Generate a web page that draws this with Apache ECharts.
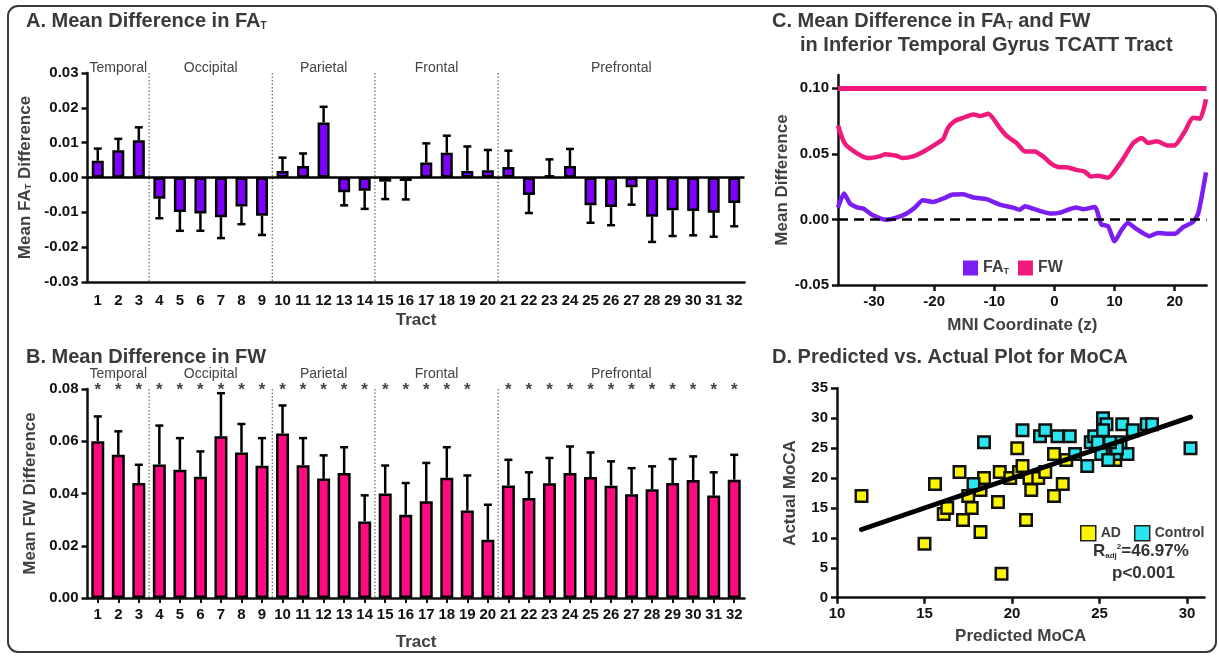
<!DOCTYPE html>
<html>
<head>
<meta charset="utf-8">
<script src="https://cdn.jsdelivr.net/npm/echarts@6/dist/echarts.min.js"></script>
<style>
html, body { margin: 0; padding: 0; background: #fff; }
#main { width: 1219px; height: 656px; }
</style>
</head>
<body>
<div id="main"></div>
<script>
var chartDom = document.getElementById('main');
var myChart = echarts.init(chartDom);
var option;

// ---- data ----
var tracts = ['1','2','3','4','5','6','7','8','9','10','11','12','13','14','15','16',
              '17','18','19','20','21','22','23','24','25','26','27','28','29','30','31','32'];

var regions = ['Temporal', 'Occipital', 'Parietal', 'Frontal', 'Prefrontal'];
var regionFirst = [1, 4, 10, 15, 21];
var regionLast = [3, 9, 14, 20, 32];
var dividerAfter = [3, 9, 14, 20];

// A. FA_T mean difference and error (one-sided bar)
var faMean = [0.0048, 0.0078, 0.0107, -0.0061, -0.0099, -0.0103, -0.0114, -0.0083, -0.0110, 0.0019,
              0.0033, 0.0158, -0.0042, -0.0038, -0.0012, -0.0010, 0.0043, 0.0071, 0.0019, 0.0021,
              0.0030, -0.0050, 0.0007, 0.0033, -0.0080, -0.0085, -0.0028, -0.0113, -0.0094, -0.0096,
              -0.0101, -0.0073];
var faErr = [0.0035, 0.0033, 0.0037, 0.0056, 0.0054, 0.0050, 0.0060, 0.0051, 0.0055, 0.0038,
             0.0036, 0.0045, 0.0038, 0.0052, 0.0050, 0.0053, 0.0055, 0.0049, 0.0070, 0.0058,
             0.0047, 0.0052, 0.0045, 0.0049, 0.0050, 0.0052, 0.0050, 0.0072, 0.0074, 0.0070,
             0.0069, 0.0067];

// B. FW mean difference and error
var fwMean = [0.0600, 0.0548, 0.0440, 0.0511, 0.0491, 0.0464, 0.0619, 0.0557, 0.0506, 0.0630,
              0.0508, 0.0457, 0.0478, 0.0293, 0.0400, 0.0319, 0.0370, 0.0460, 0.0335, 0.0223,
              0.0431, 0.0383, 0.0439, 0.0478, 0.0463, 0.0430, 0.0397, 0.0416, 0.0440, 0.0452,
              0.0392, 0.0453];
var fwErr = [0.0095, 0.0090, 0.0070, 0.0149, 0.0121, 0.0097, 0.0165, 0.0109, 0.0106, 0.0107,
             0.0104, 0.0089, 0.0099, 0.0100, 0.0107, 0.0121, 0.0147, 0.0117, 0.0134, 0.0134,
             0.0098, 0.0098, 0.0097, 0.0102, 0.0094, 0.0093, 0.0100, 0.0088, 0.0092, 0.0090,
             0.0089, 0.0095];
var fwStar = [1,1,1,1,1,1,1,1,1,1,1,1,1,1,1,1,1,1,1,0,1,1,1,1,1,1,1,1,1,1,1,1];

// C. profiles along the tract
var fwZ = [-36, -34.9, -32.9, -31, -29.1, -28.2, -26.3, -25.2, -23.5, -21.9, -19.6, -18.5, -17.7, -16.6,
           -15.2, -13.5, -12.4, -11, -9.1, -8, -6.3, -4.9, -3.3, -1.9, -0.5, 0.9, 2, 3.6, 5, 6.1,
           7.2, 8.9, 9.7, 11.4, 13.1, 14.5, 15.6, 17, 18.9, 20, 21.7, 23, 24.2, 25.2];
var fwVal = [0.0715, 0.0580, 0.0505, 0.0467, 0.0480, 0.0497, 0.0485, 0.0467, 0.0480, 0.0513, 0.0577,
             0.0613, 0.0697, 0.0749, 0.0774, 0.0800, 0.0787, 0.0805, 0.0697, 0.0638, 0.0582, 0.0518,
             0.0518, 0.0480, 0.0423, 0.0397, 0.0397, 0.0377, 0.0364, 0.0326, 0.0333, 0.0318, 0.0351,
             0.0459, 0.0582, 0.0620, 0.0582, 0.0595, 0.0562, 0.0564, 0.0672, 0.0774, 0.0767, 0.0915];
var faZ = [-36, -35, -34, -32.7, -31.8, -30.2, -27.9, -26.3, -24.6, -23.2, -21.9, -20.2, -18.5, -16.9,
           -15.2, -13.5, -11.3, -9.1, -6.9, -5.8, -4.9, -3.6, -2.4, -0.5, 0.9, 2.5, 3.6, 4.8, 6.7,
           7.8, 8.9, 10, 11.1, 12.2, 13.6, 15.8, 17.2, 18.6, 20, 21.4, 23, 23.9, 25.2];
var faVal = [0.0090, 0.0197, 0.0120, 0.0090, 0.0082, 0.0031, -0.0003, 0.0013, 0.0044, 0.0090, 0.0146,
             0.0133, 0.0159, 0.0190, 0.0192, 0.0167, 0.0154, 0.0113, 0.0090, 0.0074, 0.0100, 0.0082,
             0.0064, 0.0044, 0.0051, 0.0077, 0.0090, 0.0077, 0.0095, -0.0038, -0.0051, -0.0167,
             -0.0085, -0.0028, -0.0072, -0.0128, -0.0103, -0.0110, -0.0110, -0.0059, -0.0021, 0.0044,
             0.0359];
var fwSigLevel = 0.10;

// D. predicted vs actual MoCA
var adPred = [11.4, 15.0, 15.6, 16.1, 16.3, 17.0, 17.2, 17.5, 17.7, 18.2, 18.2, 18.4, 19.2, 19.3, 19.4,
              19.9, 20.3, 20.4, 20.6, 20.8, 21.0, 21.1, 21.5, 21.9, 22.4, 22.4, 22.9, 23.1, 25.9];
var adActual = [17, 9, 19, 14, 15, 21, 13, 17, 15, 18, 11, 20, 16, 21, 4,
                20, 25, 21, 22, 13, 20, 18, 20, 21, 24, 17, 19, 23, 23];
var ctlPred = [17.8, 18.4, 20.6, 21.6, 21.9, 22.6, 23.3, 23.6, 24.3, 24.5, 24.7, 24.9, 25.2, 25.4,
               25.2, 26.3, 26.9, 27.7, 28.0, 25.1, 25.9, 26.6, 25.5, 26.2, 26.0, 30.2, 25.6];
var ctlActual = [19, 26, 28, 27, 28, 27, 27, 24, 22, 26, 27, 26, 30, 29,
                 28, 29, 28, 29, 29, 24, 24, 24, 23, 26, 25, 25, 26];
var fitPred = [11.4, 30.2];
var fitActual = [11.4, 30.2];

// ---- styling helpers ----
var FONT = "'Liberation Sans', Arial, Helvetica, sans-serif";
var INK = '#111';
var GREY = '#404040';
var PURPLE = '#7f00ff';
var PINK = '#ff0a80';
var FW_LINE = '#f01a7c';
var FA_LINE = '#7a1ef2';

function fmt2(v) { return Math.abs(v) < 1e-9 ? '0.00' : v.toFixed(2); }
function zip(a, b) { return a.map(function (v, i) { return [v, b[i]]; }); }

var axisLineStyle = { show: true, onZero: false, lineStyle: { color: INK, width: 2.5 } };
var tickStyle = { show: true, length: 6, lineStyle: { color: INK, width: 2.5 } };
function labelStyle(margin) {
    return { color: INK, fontFamily: FONT, fontWeight: 'bold', fontSize: 15, margin: margin };
}
var nameStyle = {
    color: GREY, fontFamily: FONT, fontWeight: 'bold', fontSize: 17,
    rich: {
        b: { color: GREY, fontFamily: FONT, fontWeight: 'bold', fontSize: 17 },
        s: { color: GREY, fontFamily: FONT, fontWeight: 'bold', fontSize: 9, verticalAlign: 'bottom' }
    }
};
var titleRich = {
    t: { color: '#3a3a3a', fontFamily: FONT, fontWeight: 'bold', fontSize: 20, lineHeight: 22, verticalAlign: 'bottom' },
    s: { color: '#3a3a3a', fontFamily: FONT, fontWeight: 'bold', fontSize: 10, lineHeight: 10, verticalAlign: 'bottom' }
};

function tractAxis(grid, margin, nameGap, ticks) {
    return {
        type: 'category', gridIndex: grid, data: tracts, position: 'bottom',
        axisLine: axisLineStyle,
        axisTick: ticks ? { show: true, alignWithLabel: true, length: 5, lineStyle: { color: INK, width: 2 } } : { show: false },
        axisLabel: Object.assign({ interval: 0 }, labelStyle(margin)),
        splitLine: { show: false },
        name: 'Tract', nameLocation: 'middle', nameGap: nameGap, nameTextStyle: nameStyle
    };
}

function errorBars(idx, means, errs) {
    return {
        type: 'custom', xAxisIndex: idx, yAxisIndex: idx, z: 4, silent: true,
        data: means.map(function (m, i) { return [i, m, errs[i]]; }),
        renderItem: function (params, api) {
            var i = api.value(0), m = api.value(1), e = api.value(2);
            var tip = m >= 0 ? m + e : m - e;
            var p0 = api.coord([i, m]), p1 = api.coord([i, tip]);
            var st = { stroke: '#000', lineWidth: 2.5 };
            return {
                type: 'group', children: [
                    { type: 'line', shape: { x1: p0[0], y1: p0[1], x2: p1[0], y2: p1[1] }, style: st },
                    { type: 'line', shape: { x1: p1[0] - 4, y1: p1[1], x2: p1[0] + 4, y2: p1[1] }, style: st }
                ]
            };
        }
    };
}

function dividers(idx) {
    return {
        type: 'custom', xAxisIndex: idx, yAxisIndex: idx, z: 1, silent: true,
        data: dividerAfter.map(function (n) { return [n - 1, 0]; }),
        renderItem: function (params, api) {
            var a = api.value(0);
            var cs = params.coordSys;
            var x = (api.coord([a, 0])[0] + api.coord([a + 1, 0])[0]) / 2;
            return {
                type: 'line', shape: { x1: x, y1: cs.y, x2: x, y2: cs.y + cs.height },
                style: { stroke: '#666', lineWidth: 1.2, lineDash: [1.5, 2] }
            };
        }
    };
}

function regionLabels(idx, offset) {
    return {
        type: 'custom', xAxisIndex: idx, yAxisIndex: idx, z: 5, silent: true,
        data: regions.map(function (r, k) { return [regionFirst[k] - 1, 0]; }),
        renderItem: function (params, api) {
            var k = params.dataIndex;
            var cs = params.coordSys;
            var x = (api.coord([regionFirst[k] - 1, 0])[0] + api.coord([regionLast[k] - 1, 0])[0]) / 2;
            return {
                type: 'text', x: x, y: cs.y + offset,
                style: {
                    text: regions[k], fill: '#444', font: '14px ' + FONT,
                    align: 'center', verticalAlign: 'middle', textAlign: 'center', textVerticalAlign: 'middle'
                }
            };
        }
    };
}

option = {
    animation: false,
    backgroundColor: '#fff',
    title: [
        { text: '{t|A. Mean Difference in FA}{s|T}', left: 26, top: 9, padding: 0, textStyle: { rich: titleRich } },
        { text: '{t|B. Mean Difference in FW}', left: 26, top: 345, padding: 0, textStyle: { rich: titleRich } },
        { text: '{t|C. Mean Difference in FA}{s|T}{t| and FW}', left: 772, top: 9, padding: 0, textStyle: { rich: titleRich } },
        { text: '{t|in Inferior Temporal Gyrus TCATT Tract}', left: 800, top: 33, padding: 0, textStyle: { rich: titleRich } },
        { text: '{t|D. Predicted vs. Actual Plot for MoCA}', left: 772, top: 345, padding: 0, textStyle: { rich: titleRich } }
    ],
    legend: [
        {
            data: ['FAT', 'FW'], left: 963, top: 260, padding: 0, orient: 'horizontal',
            icon: 'rect', itemWidth: 15, itemHeight: 15, itemGap: 9,
            selectedMode: false,
            formatter: function (n) { return n === 'FAT' ? '{b|FA}{s|T}' : '{b|FW}'; },
            textStyle: {
                rich: {
                    b: { color: GREY, fontFamily: FONT, fontWeight: 'bold', fontSize: 16 },
                    s: { color: GREY, fontFamily: FONT, fontWeight: 'bold', fontSize: 9, verticalAlign: 'bottom' }
                }
            }
        },
        {
            data: ['AD', 'Control'], left: 1080, top: 525, padding: 0, orient: 'horizontal', width: 132,
            icon: 'rect', itemWidth: 15, itemHeight: 15, itemGap: 13,
            selectedMode: false,
            itemStyle: { borderColor: '#222', borderWidth: 1.5 },
            textStyle: { color: GREY, fontFamily: FONT, fontWeight: 'bold', fontSize: 14 }
        }
    ],
    graphic: [
        {
            type: 'rect', silent: true, z: 0,
            shape: { x: 8, y: 6, width: 1208, height: 646, r: 10 },
            style: { fill: 'none', stroke: '#3a3a3a', lineWidth: 2 }
        },
        {
            type: 'text', left: 1093, top: 543, silent: true,
            style: {
                text: '{b|R}{sb|adj}{sp|2}{b|=46.97%}',
                rich: {
                    b: { fill: '#333', fontFamily: FONT, fontWeight: 'bold', fontSize: 17 },
                    sb: { fill: '#333', fontFamily: FONT, fontWeight: 'bold', fontSize: 8, verticalAlign: 'bottom' },
                    sp: { fill: '#333', fontFamily: FONT, fontWeight: 'bold', fontSize: 8, verticalAlign: 'top' }
                }
            }
        },
        {
            type: 'text', left: 1112, top: 565, silent: true,
            style: { text: 'p<0.001', fill: '#333', font: 'bold 17px ' + FONT }
        }
    ],
    grid: [
        { left: 87.5, top: 73, width: 657, height: 209 },
        { left: 87.5, top: 389, width: 657, height: 209 },
        { left: 838, top: 75, width: 368.6, height: 210 },
        { left: 837, top: 388.3, width: 367.5, height: 209.4 }
    ],
    xAxis: [
        tractAxis(0, 11, 30, false),
        tractAxis(1, 9, 36, true),
        {
            type: 'value', gridIndex: 2, min: -36, max: 25.3,
            axisLine: axisLineStyle,
            axisTick: Object.assign({ customValues: [-30, -20, -10, 0, 10, 20] }, tickStyle),
            axisLabel: Object.assign({ customValues: [-30, -20, -10, 0, 10, 20] }, labelStyle(9)),
            splitLine: { show: false },
            name: 'MNI Coordinate (z)', nameLocation: 'middle', nameGap: 32, nameTextStyle: nameStyle
        },
        {
            type: 'value', gridIndex: 3, min: 10, max: 31,
            axisLine: axisLineStyle,
            axisTick: Object.assign({ customValues: [10, 15, 20, 25, 30] }, tickStyle),
            axisLabel: Object.assign({ customValues: [10, 15, 20, 25, 30] }, labelStyle(9)),
            splitLine: { show: false },
            name: 'Predicted MoCA', nameLocation: 'middle', nameGap: 30, nameTextStyle: nameStyle
        }
    ],
    yAxis: [
        {
            type: 'value', gridIndex: 0, min: -0.03, max: 0.03, interval: 0.01,
            axisLine: axisLineStyle, axisTick: tickStyle,
            axisLabel: Object.assign({ formatter: fmt2 }, labelStyle(9)),
            splitLine: { show: false },
            name: '{b|Mean FA}{s|T}{b| Difference}', nameLocation: 'middle', nameGap: 43, nameTextStyle: nameStyle
        },
        {
            type: 'value', gridIndex: 1, min: 0, max: 0.08, interval: 0.02,
            axisLine: axisLineStyle, axisTick: tickStyle,
            axisLabel: Object.assign({ formatter: fmt2 }, labelStyle(9)),
            splitLine: { show: false },
            name: 'Mean FW Difference', nameLocation: 'middle', nameGap: 43, nameTextStyle: nameStyle
        },
        {
            type: 'value', gridIndex: 2, min: -0.05, max: 0.11,
            axisLine: axisLineStyle,
            axisTick: Object.assign({ customValues: [-0.05, 0, 0.05, 0.1] }, tickStyle),
            axisLabel: Object.assign({ customValues: [-0.05, 0, 0.05, 0.1], formatter: fmt2 }, labelStyle(9)),
            splitLine: { show: false },
            name: 'Mean Difference', nameLocation: 'middle', nameGap: 41, nameTextStyle: nameStyle
        },
        {
            type: 'value', gridIndex: 3, min: 0, max: 35, interval: 5,
            axisLine: axisLineStyle, axisTick: tickStyle,
            axisLabel: labelStyle(9),
            splitLine: { show: false },
            name: 'Actual MoCA', nameLocation: 'middle', nameGap: 38, nameTextStyle: nameStyle
        }
    ],
    series: [
        // A
        {
            type: 'bar', name: 'faBar', xAxisIndex: 0, yAxisIndex: 0, data: faMean, barWidth: 12, z: 3,
            itemStyle: { color: PURPLE, borderColor: '#000', borderWidth: 2.5 },
            markLine: {
                silent: true, symbol: ['none', 'none'], label: { show: false },
                lineStyle: { color: '#000', width: 2.5, type: 'solid' }, data: [{ yAxis: 0 }]
            }
        },
        errorBars(0, faMean, faErr),
        dividers(0),
        regionLabels(0, -5),
        // B
        {
            type: 'bar', name: 'fwBar', xAxisIndex: 1, yAxisIndex: 1, data: fwMean, barWidth: 13, z: 3,
            itemStyle: { color: PINK, borderColor: '#000', borderWidth: 2.5 }
        },
        errorBars(1, fwMean, fwErr),
        dividers(1),
        regionLabels(1, -15),
        {
            type: 'custom', xAxisIndex: 1, yAxisIndex: 1, z: 5, silent: true,
            data: fwStar.map(function (s, i) { return [i, 0.08, s]; }),
            renderItem: function (params, api) {
                if (!api.value(2)) { return null; }
                var p = api.coord([api.value(0), 0.08]);
                return {
                    type: 'text', x: p[0], y: p[1] + 1,
                    style: {
                        text: '*', fill: '#444', font: 'bold 17px ' + FONT,
                        align: 'center', verticalAlign: 'middle', textAlign: 'center', textVerticalAlign: 'middle'
                    }
                };
            }
        },
        // C
        {
            type: 'line', name: 'FW', xAxisIndex: 2, yAxisIndex: 2, data: zip(fwZ, fwVal),
            showSymbol: false, smooth: 0.2, color: FW_LINE, z: 3,
            lineStyle: { color: FW_LINE, width: 4.5, join: 'round' },
            markLine: {
                silent: true, symbol: ['none', 'none'], label: { show: false },
                lineStyle: { color: FW_LINE, width: 5, type: 'solid' }, data: [{ yAxis: fwSigLevel }]
            }
        },
        {
            type: 'line', name: 'FAT', xAxisIndex: 2, yAxisIndex: 2, data: zip(faZ, faVal),
            showSymbol: false, smooth: 0.2, color: FA_LINE, z: 3,
            lineStyle: { color: FA_LINE, width: 4.5, join: 'round' },
            markLine: {
                silent: true, symbol: ['none', 'none'], label: { show: false },
                lineStyle: { color: '#000', width: 2.5, type: [10, 6] }, data: [{ yAxis: 0 }]
            }
        },
        // D
        {
            type: 'scatter', name: 'AD', xAxisIndex: 3, yAxisIndex: 3, data: zip(adPred, adActual),
            symbol: 'rect', symbolSize: 11.5, z: 3,
            itemStyle: { color: '#fbf500', borderColor: '#111', borderWidth: 2.5, opacity: 1 }
        },
        {
            type: 'scatter', name: 'Control', xAxisIndex: 3, yAxisIndex: 3, data: zip(ctlPred, ctlActual),
            symbol: 'rect', symbolSize: 11.5, z: 3,
            itemStyle: { color: '#29e5ef', borderColor: '#111', borderWidth: 2.5, opacity: 1 }
        },
        {
            type: 'line', name: 'fit', xAxisIndex: 3, yAxisIndex: 3, data: zip(fitPred, fitActual),
            showSymbol: false, z: 4, lineStyle: { color: '#000', width: 5, cap: 'round' }
        }
    ]
};

option && myChart.setOption(option);
</script>
</body>
</html>
